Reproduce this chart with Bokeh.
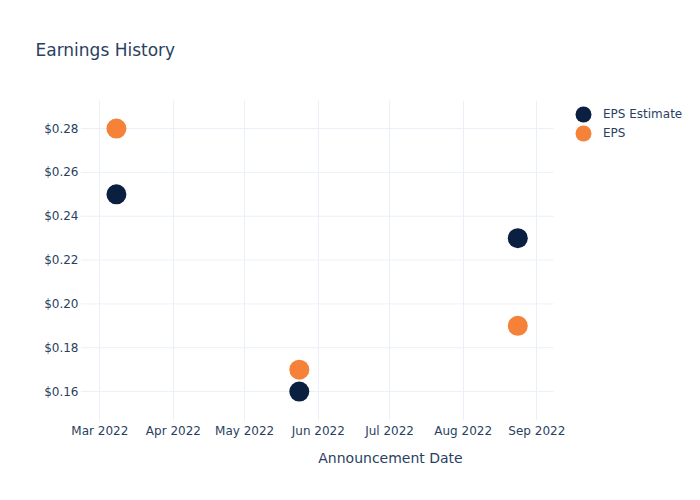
import pandas as pd
from bokeh.plotting import figure
from bokeh.models import (Legend, LegendItem, DatetimeTickFormatter, FixedTicker,
                          NumeralTickFormatter, Range1d)
from bokeh.embed import file_html
from bokeh.resources import INLINE

dates = ["2022-03-08", "2022-05-24", "2022-08-24"]
eps_estimate = [0.25, 0.16, 0.23]
eps_actual = [0.28, 0.17, 0.19]
y_ticks = [0.16, 0.18, 0.20, 0.22, 0.24, 0.26, 0.28]
x_tick_months = ["2022-03-01", "2022-04-01", "2022-05-01", "2022-06-01",
                 "2022-07-01", "2022-08-01", "2022-09-01"]
series_names = ["EPS Estimate", "EPS"]

x = pd.to_datetime(dates)
TXT = "#2a3f5f"
GRID = "#ebf0f8"
FONT = "DejaVu Sans"

def ms(s):
    return pd.Timestamp(s).timestamp() * 1000

x_start = ms("2022-02-20 21:00")
x_plot_end = ms("2022-09-08 00:45")       # right edge of the plotting area
PLOT_W = 473                               # px of plotting area
FRAME_W = 620                              # frame extended under the legend area
x_frame_end = x_start + (x_plot_end - x_start) * FRAME_W / PLOT_W

p = figure(frame_width=FRAME_W, frame_height=320, x_axis_type="datetime", output_backend="svg",
           toolbar_location=None,
           x_range=Range1d(x_start, x_frame_end),
           y_range=Range1d(0.1468, 0.2928),
           min_border_left=80, min_border_right=0, min_border_top=100, min_border_bottom=80)
p.outline_line_color = None
p.background_fill_color = "white"
p.border_fill_color = "white"

# horizontal grid lines limited to the plotting area
p.segment(x0=[x_start] * len(y_ticks), y0=y_ticks, x1=[x_plot_end] * len(y_ticks), y1=y_ticks,
          line_color=GRID, line_width=1, level="underlay")

r1 = p.scatter(x, eps_estimate, size=20, color="#0b1f41", line_color=None)
r2 = p.scatter(x, eps_actual, size=20, color="#f6823a", line_color=None)

p.xaxis.ticker = FixedTicker(ticks=[ms(d) for d in x_tick_months])
fmt = "%b %Y"
p.xaxis.formatter = DatetimeTickFormatter(months=fmt, days=fmt, hours=fmt, years=fmt,
                                          minutes=fmt, seconds=fmt, milliseconds=fmt,
                                          microseconds=fmt, minsec=fmt, hourmin=fmt)
p.xaxis.bounds = (x_start, x_plot_end)
p.yaxis.ticker = FixedTicker(ticks=y_ticks)
p.yaxis.formatter = NumeralTickFormatter(format="$0.00")

for ax in (p.xaxis[0], p.yaxis[0]):
    ax.axis_line_color = None
    ax.major_tick_line_color = None
    ax.minor_tick_line_color = None
    ax.major_tick_out = 0
    ax.major_tick_in = 0
    ax.minor_tick_out = 0
    ax.minor_tick_in = 0
    ax.major_label_text_color = TXT
    ax.major_label_text_font = FONT
    ax.major_label_text_font_size = "12px"
    ax.axis_label_text_color = TXT
    ax.axis_label_text_font = FONT
    ax.axis_label_text_font_size = "14px"
    ax.axis_label_text_font_style = "normal"
p.xaxis.major_label_standoff = 3
p.yaxis.major_label_standoff = 2
p.xaxis.axis_label = "Announcement Date"
p.xaxis.axis_label_standoff = 9
p.xaxis.axis_label_text_align = "right"

p.xgrid.grid_line_color = GRID
p.ygrid.grid_line_color = None

for name, rend, ly in zip(series_names, [r1, r2], [286, 267]):
    lg = Legend(items=[LegendItem(label=name, renderers=[rend])],
                location=(483, ly), border_line_color=None, background_fill_alpha=0,
                label_text_font=FONT, label_text_font_size="12px", label_text_color=TXT,
                glyph_width=40, glyph_height=40, spacing=0, padding=0, margin=0,
                label_standoff=0, label_height=16)
    p.add_layout(lg, "center")

p.title.text = "Earnings History"
p.title.text_font = FONT
p.title.text_font_size = "17px"
p.title.text_font_style = "normal"
p.title.text_color = TXT
p.title.offset = -45
p.title.vertical_align = "top"
p.title.standoff = 78

open("out.html", "w").write(file_html(p, INLINE))
